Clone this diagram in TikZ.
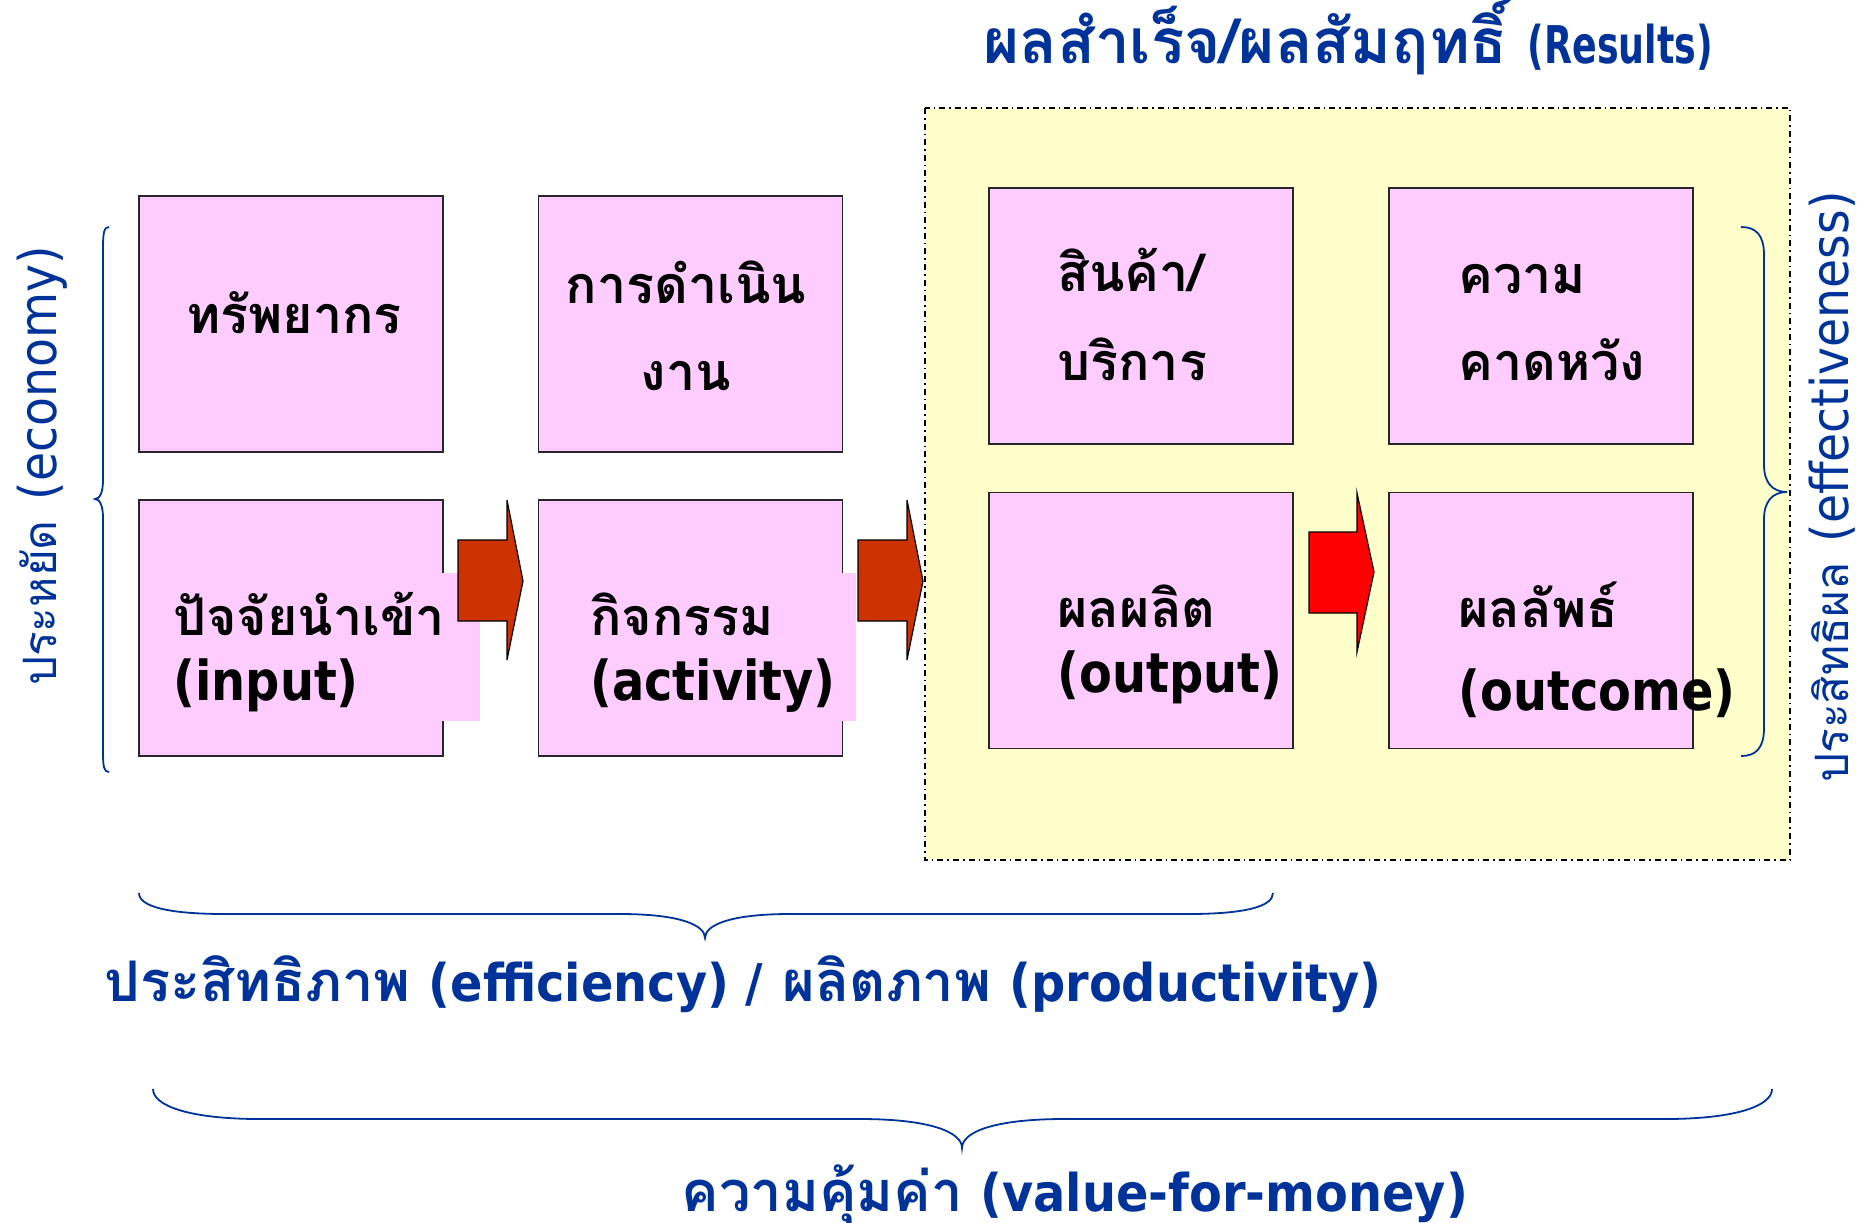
\documentclass[tikz,border=0pt]{standalone}
\usepackage{fontspec}
\newfontfamily\thai[Script=Thai]{Loma}
\newfontfamily\latbox[FakeStretch=0.87]{DejaVu Sans}
\newfontfamily\lattitle[FakeStretch=0.70]{DejaVu Sans}
\newfontfamily\latbottom[FakeStretch=0.92]{DejaVu Sans}
\newfontfamily\latvert[FakeStretch=0.91]{DejaVu Sans}
\newcommand\thtitle[1]{{\fontsize{31}{36}\selectfont\thai\bfseries #1}}
\newcommand\entitle[1]{{\fontsize{26}{30}\selectfont\lattitle\bfseries #1}}
\newcommand\thbottom[1]{{\fontsize{28}{33}\selectfont\thai\bfseries #1}}
\newcommand\enbottom[1]{{\fontsize{26}{30}\selectfont\latbottom\bfseries #1}}
\newcommand\thvert[1]{{\fontsize{23}{28}\selectfont\thai #1}}
\newcommand\envert[1]{{\fontsize{26}{30}\selectfont\latvert #1}}
\definecolor{boxpink}{HTML}{FFCCFF}
\definecolor{resyellow}{HTML}{FFFFCC}
\definecolor{arrowred}{HTML}{CC3300}
\definecolor{titleblue}{HTML}{003399}
\begin{document}
\begin{tikzpicture}[x=0.5pt,y=-0.5pt,
  box/.style={draw=black!85, fill=boxpink, line width=0.8pt, minimum width=152pt, minimum height=128pt, inner sep=0pt},
  boxtext/.style={font=\thai\bfseries\fontsize{26}{31}\selectfont, inner sep=0pt, text=black},
  boxlat/.style={font=\latbox\bfseries\fontsize{27.5}{32}\selectfont, inner sep=0pt, text=black},
  patch/.style={fill=boxpink, inner sep=0pt},
  blueh/.style={text=titleblue, inner sep=0pt},
  bluev/.style={text=titleblue, inner sep=0pt, rotate=90},
  bracestyle/.style={draw=titleblue, line width=0.9pt},
  blockarrow/.style={draw=black, line width=0.6pt, line join=miter}]
\useasboundingbox (0,0) rectangle (1862,1222);
\fill[white] (0,0) rectangle (1862,1222);

% results region
\draw[fill=resyellow, draw=black, line width=0.8pt, dash dot] (925,108) rectangle (1790,860);

% boxes
\node[box] (res) at (291,324) {};
\node[box] (ops) at (690.5,324) {};
\node[box] (inp) at (291,628) {};
\node[box] (act) at (690.5,628) {};
\node[box] (prod) at (1141,316) {};
\node[box] (expc) at (1541,316) {};
\node[box] (outp) at (1141,620.5) {};
\node[box] (outc) at (1541,620.5) {};

% text background patches
\node[patch, anchor=north east, minimum width=150pt, minimum height=74pt] (inpbg) at (480,573) {};
\node[patch, anchor=north east, minimum width=150pt, minimum height=74pt] (actbg) at (856,573) {};

% box texts
\node[boxtext, anchor=base] (t1) at (294,333) {ทรัพยากร};
\node[boxtext, anchor=base] (t2a) at (686,303) {การดำเนิน};
\node[boxtext, anchor=base] (t2b) at (686,390) {งาน};
\node[boxtext, anchor=base west] (t3a) at (173,635) {ปัจจัยนำเข้า};
\node[boxlat, anchor=base west] (t3b) at (173,700) {(input)};
\node[boxtext, anchor=base west] (t4a) at (590,635) {กิจกรรม};
\node[boxlat, anchor=base west] (t4b) at (590,700) {(activity)};
\node[boxtext, anchor=base west] (t5a) at (1057,291) {สินค้า/};
\node[boxtext, anchor=base west] (t5b) at (1057,380) {บริการ};
\node[boxtext, anchor=base west] (t6a) at (1458,293) {ความ};
\node[boxtext, anchor=base west] (t6b) at (1458,380) {คาดหวัง};
\node[boxtext, anchor=base west] (t7a) at (1057,627) {ผลผลิต};
\node[boxlat, anchor=base west] (t7b) at (1057,692) {(output)};
\node[boxtext, anchor=base west] (t8a) at (1458,627) {ผลลัพธ์};
\node[boxlat, anchor=base west] (t8b) at (1458,710) {(outcome)};

% block arrows
\draw[blockarrow, fill=arrowred] (458,540) -- (507,540) -- (507,500) -- (523,581) -- (507,660) -- (507,621) -- (458,621) -- cycle;
\draw[blockarrow, fill=arrowred] (858,540) -- (907,540) -- (907,500) -- (923,581) -- (907,660) -- (907,621) -- (858,621) -- cycle;
\draw[blockarrow, fill=red] (1309,532) -- (1357,532) -- (1357,493) -- (1374,572) -- (1357,652) -- (1357,613) -- (1309,613) -- cycle;

% braces
\draw[bracestyle] (109,227) .. controls (104,227) and (103,233) .. (103,248) -- (103,480) .. controls (103,492) and (100,499) .. (95,499) .. controls (100,499) and (103,506) .. (103,518) -- (103,752) .. controls (103,767) and (104,772) .. (109,772);
\draw[bracestyle] (1741,227) .. controls (1756,227) and (1764,235) .. (1764,255) -- (1764,465) .. controls (1764,482) and (1772,492) .. (1787,492) .. controls (1772,492) and (1764,502) .. (1764,519) -- (1764,728) .. controls (1764,748) and (1756,756) .. (1741,756);
\draw[bracestyle] (139,893) .. controls (139,907) and (170,914) .. (225,914) -- (620,914) .. controls (680,914) and (705,925) .. (705,938) .. controls (705,925) and (730,914) .. (790,914) -- (1188,914) .. controls (1243,914) and (1273,907) .. (1273,893);
\draw[bracestyle] (153,1089) .. controls (153,1106) and (190,1119) .. (260,1119) -- (860,1119) .. controls (930,1119) and (962,1132) .. (962,1148) .. controls (962,1132) and (994,1119) .. (1064,1119) -- (1665,1119) .. controls (1735,1119) and (1772,1106) .. (1772,1089);

% headings
\node[blueh, anchor=base] (title) at (1348,63) {\thtitle{ผลสำเร็จ/ผลสัมฤทธิ์}\hspace{10pt}\entitle{(Results)}};
\node[blueh, anchor=base] (effi) at (743,1001) {\thbottom{ประสิทธิภาพ}\hspace{9pt}\enbottom{(efficiency)}\hspace{8pt}\enbottom{/}\hspace{10pt}\thbottom{ผลิตภาพ}\hspace{9pt}\enbottom{(productivity)}};
\node[blueh, anchor=base] (vfm) at (1075,1211) {\thbottom{ความคุ้มค่า}\hspace{9pt}\enbottom{(value-for-money)}};
\node[bluev] (econ) at (42,466) {\thvert{ประหยัด}\hspace{10pt}\envert{(economy)}};
\node[bluev] (effe) at (1832,487) {\thvert{ประสิทธิผล}\hspace{10pt}\envert{(effectiveness)}};
\end{tikzpicture}
\end{document}
